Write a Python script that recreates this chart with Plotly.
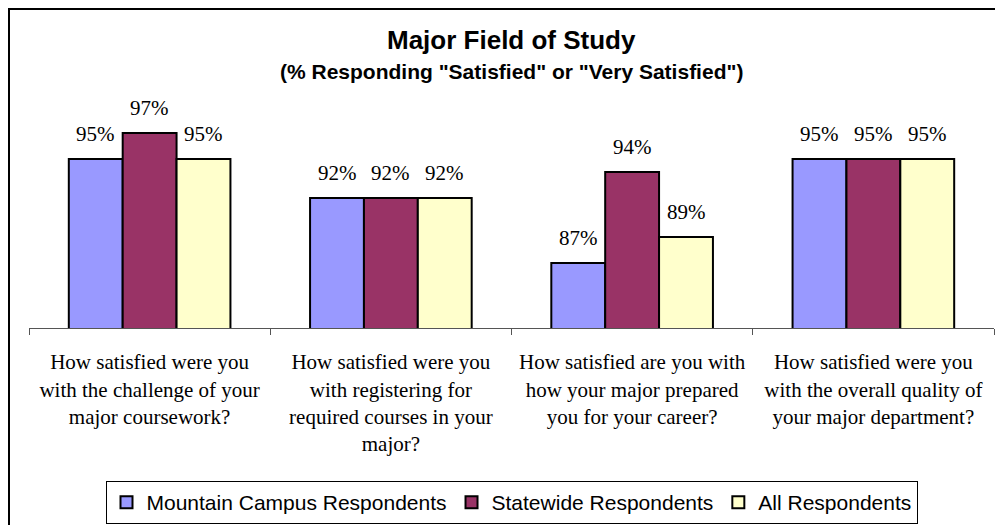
import plotly.graph_objects as go

categories = [
    "How satisfied were you<br>with the challenge of your<br>major coursework?",
    "How satisfied were you<br>with registering for<br>required courses in your<br>major?",
    "How satisfied are you with<br>how your major prepared<br>you for your career?",
    "How satisfied were you<br>with the overall quality of<br>your major department?",
]
series_names = ["Mountain Campus Respondents", "Statewide Respondents", "All Respondents"]
mountain = [95, 92, 87, 95]
statewide = [97, 92, 94, 95]
all_resp = [95, 92, 89, 95]
series_values = [mountain, statewide, all_resp]
colors = ["#9999FF", "#993366", "#FFFFCC"]

# page body has an 8px margin, so figure pixel = screen pixel - 8
OFF = 8
W, H = 995, 517
ml, mr, mt, mb = 29 - OFF, W - (994 - OFF), 94 - OFF, H - (328 - OFF)
pw, ph = W - ml - mr, H - mt - mb

def px_x(p):
    return (p - OFF - ml) / pw

def px_y(p):
    return (H - mb - (p - OFF)) / ph

fig = go.Figure()
for name, vals, col in zip(series_names, series_values, colors):
    fig.add_trace(go.Bar(
        name=name, x=categories, y=vals,
        marker=dict(color=col, line=dict(color="#000000", width=2)),
    ))

serif = "Liberation Serif, Times New Roman, serif"
sans = "Liberation Sans, Arial, sans-serif"

annotations = []
bar_w = pw / len(categories) * (1 - 0.33) / 3
for i, vals in enumerate(series_values):
    for c, v in zip(categories, vals):
        annotations.append(dict(
            x=c, y=v, xref="x", yref="y", text=f"{v}%", showarrow=False,
            xshift=(i - 1) * bar_w, yanchor="bottom", yshift=11,
            font=dict(family=serif, size=21, color="#000000"),
        ))

annotations.append(dict(
    x=0.5, y=px_y(40), xref="paper", yref="paper", text="<b>Major Field of Study</b>",
    showarrow=False, yanchor="middle", xanchor="center",
    font=dict(family=sans, size=26, color="#000000"),
))
annotations.append(dict(
    x=0.5, y=px_y(72), xref="paper", yref="paper",
    text='<b>(% Responding "Satisfied" or "Very Satisfied")</b>',
    showarrow=False, yanchor="middle", xanchor="center",
    font=dict(family=sans, size=21, color="#000000"),
))

fig.update_layout(
    width=W, height=H,
    margin=dict(l=ml, r=mr, t=mt, b=mb, pad=0, autoexpand=False),
    paper_bgcolor="#FFFFFF", plot_bgcolor="#FFFFFF",
    barmode="group", bargap=0.33, bargroupgap=0,
    showlegend=True,
    legend=dict(
        orientation="h", x=0.5, xanchor="center", y=px_y(481), yanchor="top",
        bordercolor="#000000", borderwidth=1,
        font=dict(family=sans, size=21, color="#000000"),
        itemwidth=30, tracegroupgap=0,
    ),
    annotations=annotations,
    shapes=[dict(
        type="rect", xref="paper", yref="paper",
        x0=px_x(OFF + 1), x1=px_x(1030), y0=px_y(560), y1=px_y(OFF + 1),
        line=dict(color="#000000", width=2), fillcolor="rgba(0,0,0,0)", layer="below",
    )],
)
fig.update_xaxes(
    showline=True, linecolor="#555555", linewidth=1,
    ticks="outside", tickson="boundaries", ticklen=6, tickcolor="#555555",
    tickfont=dict(family=serif, size=21, color="#000000"),
    ticklabelstandoff=15,
    showgrid=False, zeroline=False, fixedrange=True,
)
fig.update_yaxes(
    range=[82, 100], visible=False, showgrid=False, zeroline=False, fixedrange=True,
)

fig.write_html("out.html")
